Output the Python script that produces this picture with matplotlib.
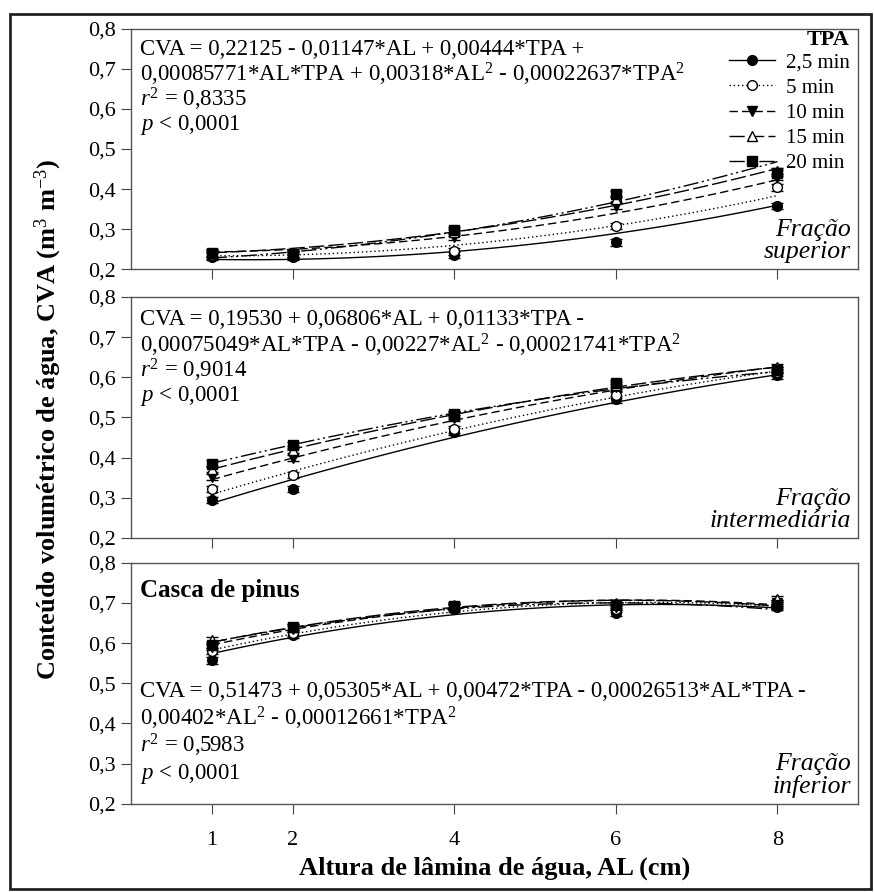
import numpy as np
import matplotlib
matplotlib.use("Agg")
from matplotlib import pyplot as plt
from matplotlib.lines import Line2D
from matplotlib.patches import Rectangle

plt.rcParams['font.family'] = ['Liberation Serif', 'DejaVu Serif']
plt.rcParams['mathtext.fontset'] = 'custom'
plt.rcParams['mathtext.rm'] = 'Liberation Serif'
plt.rcParams['mathtext.it'] = 'Liberation Serif:italic'
plt.rcParams['mathtext.bf'] = 'Liberation Serif:bold'

# dados
al = [1, 2, 4, 6, 8]
tpa = [2.5, 5, 10, 15, 20]
tpa_labels = ["2,5 min", "5 min", "10 min", "15 min", "20 min"]

# CVA medio por TPA (linhas) e AL (colunas)
sup = [[0.232, 0.232, 0.236, 0.267, 0.358],
       [0.235, 0.235, 0.245, 0.308, 0.404],
       [0.238, 0.237, 0.280, 0.358, 0.430],
       [0.242, 0.240, 0.292, 0.375, 0.445],
       [0.240, 0.238, 0.298, 0.388, 0.440]]
inter = [[0.295, 0.322, 0.465, 0.545, 0.605],
         [0.322, 0.357, 0.470, 0.556, 0.612],
         [0.352, 0.399, 0.498, 0.575, 0.618],
         [0.372, 0.420, 0.505, 0.580, 0.625],
         [0.385, 0.431, 0.508, 0.585, 0.618]]
inf = [[0.557, 0.620, 0.686, 0.675, 0.690],
       [0.580, 0.625, 0.690, 0.685, 0.700],
       [0.590, 0.635, 0.690, 0.690, 0.700],
       [0.607, 0.640, 0.695, 0.700, 0.710],
       [0.595, 0.640, 0.692, 0.695, 0.695]]
err = [0.008, 0.008, 0.008, 0.008, 0.008]

# coeficientes: b0, AL, TPA, AL*TPA, AL^2, TPA^2
coef_sup = [0.22125, -0.01147, 0.00444, 0.00085771, 0.00318, -0.00022637]
coef_int = [0.19530, 0.06806, 0.01133, -0.00075049, -0.00227, -0.00021741]
coef_inf = [0.51473, 0.05305, 0.00472, -0.00026513, -0.00402, -0.00012661]

eq_sup = ["CVA = 0,22125 - 0,01147*AL + 0,00444*TPA +",
          "0,00085771*AL*TPA + 0,00318*AL$^2$ - 0,00022637*TPA$^2$"]
eq_int = ["CVA = 0,19530 + 0,06806*AL + 0,01133*TPA -",
          "0,00075049*AL*TPA - 0,00227*AL$^2$ - 0,00021741*TPA$^2$"]
eq_inf = ["CVA = 0,51473 + 0,05305*AL + 0,00472*TPA - 0,00026513*AL*TPA -",
          "0,00402*AL$^2$ - 0,00012661*TPA$^2$"]
r2 = ["0,8335", "0,9014", "0,5983"]

styles = ['-', (0, (1, 2)), (0, (6, 3)), (0, (11, 3)), (0, (11, 2.5, 1.5, 2.5, 1.5, 2.5))]
markers = ['o', 'o', 'v', '^', 's']
faces = ['k', 'w', 'k', 'w', 'k']

fig = plt.figure(figsize=(8.74, 8.92), dpi=100)
fig.patches.append(Rectangle((0.012, 0.003), 0.985, 0.981, transform=fig.transFigure,
                             fill=False, lw=2, edgecolor='#222222'))

left, width, h = 0.150, 0.832, 0.270
bottoms = [0.698, 0.397, 0.099]
panels = [(sup, coef_sup, eq_sup, "Fração\nsuperior"),
          (inter, coef_int, eq_int, "Fração\nintermediária"),
          (inf, coef_inf, eq_inf, "Fração\ninferior")]
text_y = [[0.915, 0.81, 0.705, 0.60],
          [0.905, 0.80, 0.695, 0.59],
          [0.465, 0.355, 0.24, 0.125]]

al_fit = np.linspace(1, 8, 100)
axes = []
for k, (vals, c, eq, frac) in enumerate(panels):
    ax = fig.add_axes([left, bottoms[k], width, h])
    axes.append(ax)
    for i, t in enumerate(tpa):
        fit = c[0] + c[1]*al_fit + c[2]*t + c[3]*al_fit*t + c[4]*al_fit**2 + c[5]*t**2
        ax.plot(al_fit, fit, color='k', lw=1, linestyle=styles[i], zorder=2)
        ax.errorbar(al, vals[i], yerr=err, fmt=markers[i], color='k', mfc=faces[i],
                    mec='k', ms=7, elinewidth=1, capsize=4, capthick=1, zorder=3)
    ax.set_xlim(0, 9)
    ax.set_ylim(0.2, 0.8)
    ax.set_xticks(al)
    ax.set_yticks(np.arange(0.2, 0.81, 0.1))
    ax.set_yticklabels(["0,2", "0,3", "0,4", "0,5", "0,6", "0,7", "0,8"])
    ax.tick_params(direction='out', length=7, width=0.8, color='#444444',
                   labelsize=16, right=False, top=False, pad=4)
    for s in ax.spines.values():
        s.set_color('#555555')
        s.set_linewidth(1)
    if k < 2:
        ax.set_xticklabels([])
    ax.text(0.99, 0.025, frac, transform=ax.transAxes, ha='right', va='bottom',
            fontsize=18.5, style='italic', linespacing=1.0)

    ys = text_y[k]
    ax.text(0.012, ys[0], eq[0], transform=ax.transAxes, va='center', fontsize=16.5)
    ax.text(0.012, ys[1], eq[1], transform=ax.transAxes, va='center', fontsize=16.5)
    ax.text(0.012, ys[2], "$r^2$ = " + r2[k], transform=ax.transAxes, va='center', fontsize=16.5)
    ax.text(0.012, ys[3], "$p$ < 0,0001", transform=ax.transAxes, va='center', fontsize=16.5)

axes[2].text(0.012, 0.885, "Casca de pinus", transform=axes[2].transAxes, va='center',
             fontsize=18, fontweight='bold')
axes[2].set_xticklabels(["1", "2", "4", "6", "8"])
axes[2].tick_params(axis='x', pad=13)

handles = [Line2D([], [], color='k', lw=1, linestyle=styles[i], marker=markers[i],
                  mfc=faces[i], mec='k', ms=7) for i in range(5)]
leg = axes[0].legend(handles, tpa_labels, title="TPA", loc='upper right',
                     bbox_to_anchor=(1.005, 1.045), frameon=False, fontsize=15,
                     handlelength=2.2, labelspacing=0.27, borderaxespad=0.2,
                     handletextpad=0.5)
leg.get_title().set_fontweight('bold')
leg.get_title().set_fontsize(16)
leg._legend_box.align = "right"
leg._legend_box.sep = 2

fig.text(0.055, 0.53, "Conteúdo volumétrico de água, CVA (m$^3$ m$^{-3}$)",
         rotation=90, ha='center', va='center', fontsize=19, fontweight='bold')
fig.text(0.566, 0.027, "Altura de lâmina de água, AL (cm)", ha='center', va='center',
         fontsize=19, fontweight='bold')

fig.savefig("out.png", dpi=100)
